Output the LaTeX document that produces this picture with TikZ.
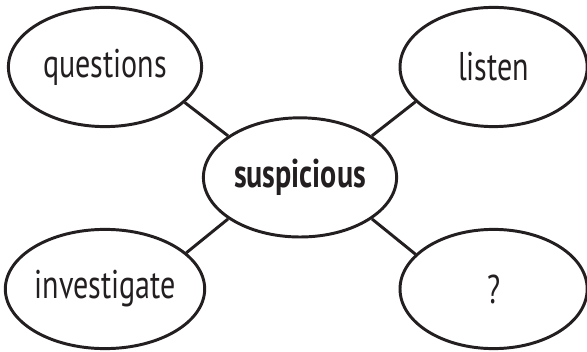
\documentclass[tikz,border=0pt]{standalone}
\usepackage{fontspec}
\setmainfont{PT Sans}[FakeStretch=0.75]
\usetikzlibrary{shapes.geometric}
\definecolor{ink}{HTML}{231F20}

\begin{document}
\begin{tikzpicture}[
  bubble/.style={ellipse, draw=ink, line width=2.1pt, inner sep=0pt,
    minimum width=4.83cm, minimum height=2.98cm, text=ink,
    font=\fontsize{28.5}{30}\selectfont},
  link/.style={draw=ink, line width=2.1pt}]

\useasboundingbox (0, 0) rectangle (14.675, 8.775);

% Bubbles
\node[bubble] (questions) at (2.625, 7.1) {questions};
\node[bubble, minimum width=4.68cm] (listen) at (12.34, 7.1) {listen};
\node[bubble, font=\fontsize{28.5}{30}\selectfont\bfseries] (suspicious) at (7.5, 4.34) {suspicious};
\node[bubble] (investigate) at (2.625, 1.55) {investigate};
\node[bubble, minimum width=4.68cm] (unknown) at (12.34, 1.55) {?};

% Links
\draw[link] (questions.-24) -- (suspicious.150);
\draw[link] (listen.-156) -- (suspicious.30);
\draw[link] (investigate.24) -- (suspicious.-150);
\draw[link] (unknown.156) -- (suspicious.-30);

\end{tikzpicture}
\end{document}
